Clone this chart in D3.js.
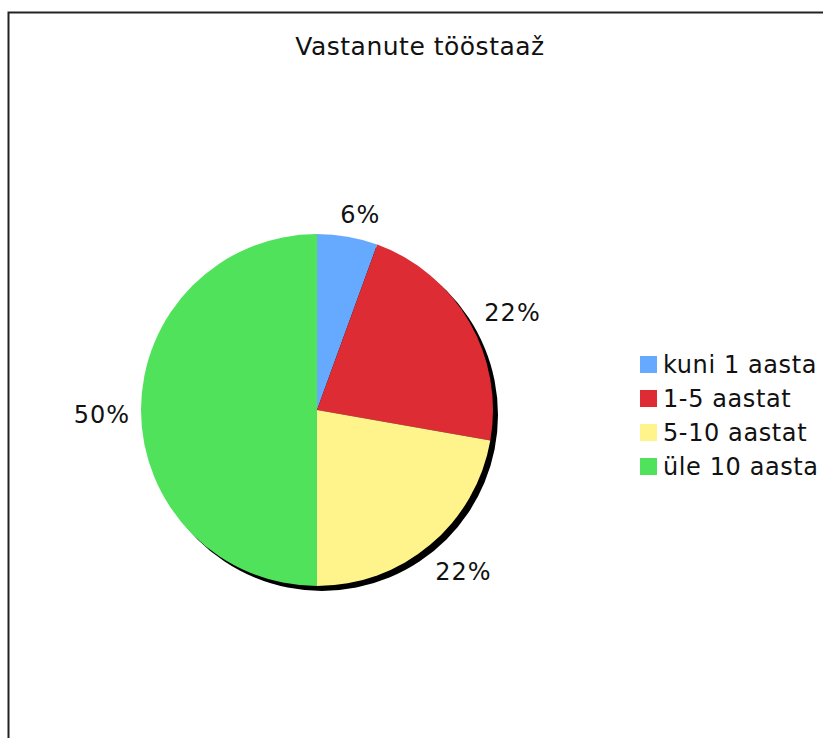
<!DOCTYPE html>
<html><head><meta charset="utf-8">
<script src="https://cdn.jsdelivr.net/npm/d3@7/dist/d3.min.js"></script>
<style>html,body{margin:0;padding:0;background:#fff;}svg{display:block;font-family:"DejaVu Sans",Verdana,sans-serif;}</style>
</head><body>
<script>
const title = "Vastanute tööstaaž";
const categories = ["kuni 1 aasta", "1-5 aastat", "5-10 aastat", "üle 10 aasta"];
const values = [1, 4, 4, 9];
const percentLabels = ["6%", "22%", "22%", "50%"];
const colors = ["#66aaff", "#de2c34", "#fff48c", "#50e25a"];

const W = 823, H = 738;
const svg = d3.select("body").append("svg").attr("width", W).attr("height", H);

// frame
svg.append("path").attr("d", `M8.5,${H} V12.5 H${W}`).attr("fill", "none").attr("stroke", "#222").attr("stroke-width", 2);

svg.append("text").attr("x", 420).attr("y", 55).attr("text-anchor", "middle")
  .attr("font-size", 25).attr("letter-spacing", 0.5).attr("fill", "#111").text(title);

const cx = 317, cy = 410, R = 176;
const pie = d3.pie().sort(null).value(d => d)(values);
const arc = d3.arc().innerRadius(0).outerRadius(R);
const g = svg.append("g").attr("transform", `translate(${cx},${cy})`);

g.append("circle").attr("cx", 5).attr("cy", 5).attr("r", R).attr("fill", "#000");
g.selectAll("path.slice").data(pie).join("path").attr("class", "slice")
  .attr("d", arc).attr("fill", (d, i) => colors[i]);

const lr = 196;
g.selectAll("text.lbl").data(pie).join("text").attr("class", "lbl")
  .attr("font-size", 24).attr("letter-spacing", 1).attr("fill", "#111").attr("text-anchor", "middle")
  .attr("dy", "0.35em")
  .attr("x", d => { const a = (d.startAngle + d.endAngle) / 2; return Math.sin(a) * (lr + 24) + 5; })
  .attr("y", d => { const a = (d.startAngle + d.endAngle) / 2; return -Math.cos(a) * (lr + 8) + 5; })
  .text((d, i) => percentLabels[i]);

const leg = svg.append("g").attr("transform", "translate(640,356)");
const rows = leg.selectAll("g").data(categories).join("g")
  .attr("transform", (d, i) => `translate(0,${i * 34})`);
rows.append("rect").attr("width", 17).attr("height", 17).attr("fill", (d, i) => colors[i]);
rows.append("text").attr("x", 23).attr("y", 17).attr("font-size", 24).attr("letter-spacing", 0.6).attr("fill", "#111").text(d => d);
</script>
</body></html>
